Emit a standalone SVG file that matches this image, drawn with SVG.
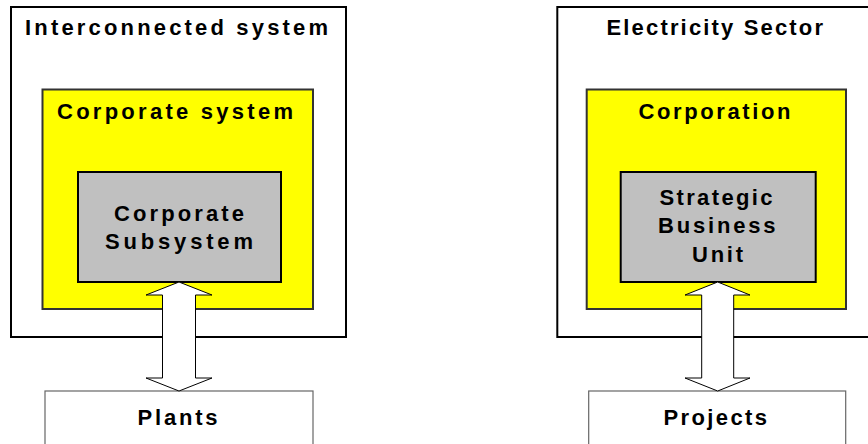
<svg xmlns="http://www.w3.org/2000/svg" width="868" height="444" viewBox="0 0 868 444">
<style>
text{font-family:"Liberation Sans",Arial,sans-serif;font-weight:bold;font-size:22px;fill:#000}
.outer{fill:#fff;stroke:#000;stroke-width:2}
.yellow{fill:#ffff00;stroke:#333;stroke-width:2}
.gray{fill:#c0c0c0;stroke:#000;stroke-width:2}
.leaf{fill:#fff;stroke:#666;stroke-width:1.2}
.arrow{fill:#fff;stroke:#000;stroke-width:1}
</style>
<rect width="868" height="444" fill="#fff"/>
<g id="interconnected-system">
<rect class="outer" x="11" y="7" width="335" height="330"/>
<text x="25" y="35" textLength="303" lengthAdjust="spacing">Interconnected system</text>
</g>
<g id="corporate-system">
<rect class="yellow" x="42.5" y="89.5" width="270.5" height="219.5"/>
<text x="57" y="118.5" textLength="236" lengthAdjust="spacing">Corporate system</text>
</g>
<g id="corporate-subsystem">
<rect class="gray" x="78" y="172" width="203" height="110"/>
<text x="114" y="221" textLength="130" lengthAdjust="spacing">Corporate</text>
<text x="105" y="249" textLength="148" lengthAdjust="spacing">Subsystem</text>
</g>
<g id="plants">
<rect class="leaf" x="45" y="391" width="268" height="60"/>
<text x="137.5" y="425" textLength="80" lengthAdjust="spacing">Plants</text>
</g>
<g id="electricity-sector">
<rect class="outer" x="557.3" y="7" width="330" height="330"/>
<text x="606.5" y="35" textLength="216.5" lengthAdjust="spacing">Electricity Sector</text>
</g>
<g id="corporation">
<rect class="yellow" x="586.7" y="89.5" width="259.3" height="219.5"/>
<text x="638.5" y="118.5" textLength="152" lengthAdjust="spacing">Corporation</text>
</g>
<g id="strategic-business-unit">
<rect class="gray" x="620.7" y="172" width="195" height="110"/>
<text x="659.5" y="205" textLength="113" lengthAdjust="spacing">Strategic</text>
<text x="658" y="233" textLength="117.5" lengthAdjust="spacing">Business</text>
<text x="692" y="261.5" textLength="51" lengthAdjust="spacing">Unit</text>
</g>
<g id="projects">
<rect class="leaf" x="588.7" y="391" width="257" height="60"/>
<text x="663.5" y="425" textLength="103.5" lengthAdjust="spacing">Projects</text>
</g>
<g id="connectors">
<polygon class="arrow" points="179,282 212,295 195.5,295 195.5,378 212,378 179,391 146,378 162.5,378 162.5,295 146,295"/>
<polygon class="arrow" points="717.7,282 750,295 733.7,295 733.7,378 750,378 717.7,391 685,378 701.7,378 701.7,295 685,295"/>
</g>
</svg>
